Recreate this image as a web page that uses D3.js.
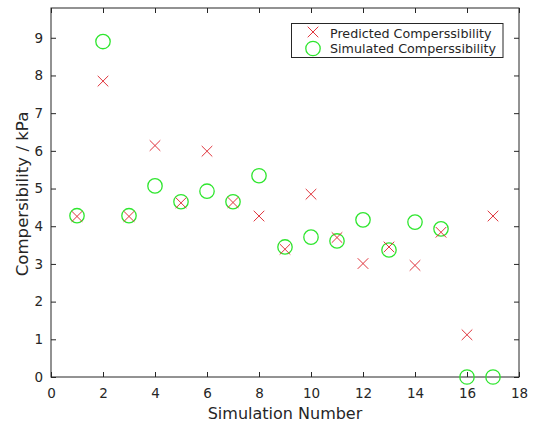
<!DOCTYPE html>
<html>
<head>
<meta charset="utf-8">
<script src="https://cdn.jsdelivr.net/npm/d3@7"></script>
<style>
  html, body { margin: 0; padding: 0; background: #fff; }
  svg { display: block; }
  text { font-family: "DejaVu Sans", sans-serif; fill: #262626; }
</style>
</head>
<body>
<svg id="chart" width="534" height="429"></svg>
<script>
// Simulation runs and compressibility values (kPa)
const simulationNumbers = [1, 2, 3, 4, 5, 6, 7, 8, 9, 10, 11, 12, 13, 14, 15, 16, 17];
const predicted = [4.26, 7.85, 4.26, 6.14, 4.62, 5.99, 4.63, 4.27, 3.39, 4.85, 3.70, 3.01, 3.45, 2.96, 3.84, 1.12, 4.27];
const simulated = [4.28, 8.90, 4.28, 5.07, 4.65, 4.93, 4.65, 5.34, 3.45, 3.71, 3.61, 4.17, 3.37, 4.11, 3.93, 0.00, 0.00];
const xTicks = [0, 2, 4, 6, 8, 10, 12, 14, 16, 18];
const yTicks = [0, 1, 2, 3, 4, 5, 6, 7, 8, 9];
const seriesNames = ["Predicted Comperssibility", "Simulated Comperssibility"];

const svg = d3.select("#chart");
const margin = { left: 51, right: 15, top: 8, bottom: 52 };
const W = 534, H = 429;
const yMax = 9.79;

const x = d3.scaleLinear().domain([0, 18]).range([margin.left, W - margin.right]);
const y = d3.scaleLinear().domain([0, yMax]).range([H - margin.bottom, margin.top]);

const axisColor = "#262626";
const tickLen = 5;

// Plot frame
svg.append("rect")
  .attr("x", x(0)).attr("y", y(yMax))
  .attr("width", x(18) - x(0)).attr("height", y(0) - y(yMax))
  .attr("fill", "none").attr("stroke", axisColor).attr("stroke-width", 1);

// Axes with inward ticks
function styleAxis(g) {
  g.select(".domain").remove();
  g.selectAll(".tick line").attr("stroke", axisColor);
  g.selectAll(".tick text").attr("font-size", 13.5).attr("fill", axisColor)
    .style("font-family", "'DejaVu Sans', sans-serif");
}
svg.append("g").attr("transform", `translate(0,${y(0)})`)
  .call(d3.axisBottom(x).tickValues(xTicks).tickSizeInner(-tickLen).tickSizeOuter(0).tickPadding(11))
  .call(styleAxis);
svg.append("g").attr("transform", `translate(0,${y(yMax)})`)
  .call(d3.axisTop(x).tickValues(xTicks).tickSizeInner(-tickLen).tickSizeOuter(0).tickFormat(""))
  .call(styleAxis);
svg.append("g").attr("transform", `translate(${x(0)},0)`)
  .call(d3.axisLeft(y).tickValues(yTicks).tickSizeInner(-tickLen).tickSizeOuter(0).tickPadding(8))
  .call(styleAxis);
svg.append("g").attr("transform", `translate(${x(18)},0)`)
  .call(d3.axisRight(y).tickValues(yTicks).tickSizeInner(-tickLen).tickSizeOuter(0).tickFormat(""))
  .call(styleAxis);

// Axis labels
svg.append("text")
  .attr("x", 285).attr("y", 419)
  .attr("text-anchor", "middle").attr("font-size", 16)
  .text("Simulation Number");
svg.append("text")
  .attr("transform", "translate(28,194) rotate(-90)")
  .attr("text-anchor", "middle").attr("font-size", 16.6)
  .text("Compersibility / kPa");

const red = "#e0343c";
const green = "#2ee62e";
const xHalf = 5.3, rCircle = 7.2;

function cross(g, cx, cy, s) {
  g.append("path")
    .attr("d", `M${cx - s},${cy - s}L${cx + s},${cy + s}M${cx - s},${cy + s}L${cx + s},${cy - s}`)
    .attr("stroke", red).attr("stroke-width", 1).attr("fill", "none");
}

// Simulated series (circles)
const data = simulationNumbers.map((n, i) => ({ n, p: predicted[i], s: simulated[i] }));
svg.append("g").selectAll("circle").data(data).join("circle")
  .attr("cx", d => x(d.n)).attr("cy", d => y(d.s)).attr("r", rCircle)
  .attr("fill", "none").attr("stroke", green).attr("stroke-width", 1.3);

// Predicted series (crosses)
const pg = svg.append("g");
data.forEach(d => cross(pg, x(d.n), y(d.p), xHalf));

// Legend
const lg = svg.append("g");
lg.append("rect").attr("x", 291.5).attr("y", 23.5).attr("width", 211.5).attr("height", 34)
  .attr("fill", "#fff").attr("stroke", axisColor).attr("stroke-width", 1);
cross(lg, 313, 32, xHalf);
lg.append("circle").attr("cx", 313).attr("cy", 48.5).attr("r", rCircle)
  .attr("fill", "none").attr("stroke", green).attr("stroke-width", 1.3);
seriesNames.forEach((name, i) => {
  lg.append("text").attr("x", 330).attr("y", 37.8 + i * 15)
    .attr("font-size", 12.7).text(name);
});
</script>
</body>
</html>
